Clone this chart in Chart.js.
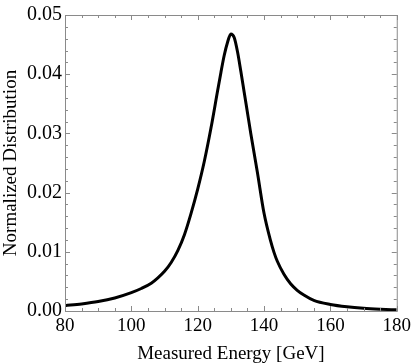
<!DOCTYPE html>
<html>
<head>
<meta charset="utf-8">
<script src="https://cdn.jsdelivr.net/npm/chart.js@4/dist/chart.umd.min.js"></script>
<style>
  html, body { margin: 0; padding: 0; background: #fff; }
  #wrap { width: 415px; height: 363px; position: relative; }
</style>
</head>
<body>
<div id="wrap"><canvas id="c"></canvas></div>
<script>
// measured energy (GeV) and normalized distribution
const energy = [80, 85, 90, 95, 100, 103, 106, 108, 110, 112, 114, 116, 118, 120, 122, 124, 126, 127, 128, 129,
  130, 131, 132, 133, 134, 135, 136, 137, 138, 140, 142, 143, 144, 146, 148, 150, 152, 155, 160, 165, 170,
  175, 180];
const density = [0.0009, 0.0012, 0.0016, 0.0022, 0.0031, 0.0038, 0.0047, 0.0056, 0.0067, 0.0082, 0.0102,
  0.0129, 0.0165, 0.0206, 0.0253, 0.0309, 0.0372, 0.0403, 0.0432, 0.0454, 0.0468, 0.0462, 0.0438, 0.0405,
  0.0370, 0.0335, 0.0300, 0.0267, 0.0234, 0.0165, 0.0118, 0.0099, 0.0084, 0.0062, 0.0046, 0.0035, 0.0027,
  0.0018, 0.0011, 0.0007, 0.00045, 0.0003, 0.0002];

const xMajorTicks = [80, 100, 120, 140, 160, 180];
const yMajorTicks = [0, 0.01, 0.02, 0.03, 0.04, 0.05];
const xMinorStep = 5;
const yMinorStep = 0.002;

const FONT = "'Liberation Serif', 'Times New Roman', serif";
const FRAME = "#8a8a8a";

// frame with inward ticks on all four sides
const framePlugin = {
  id: "frame",
  afterDraw(chart) {
    const { ctx, chartArea: a, scales } = chart;
    const xs = scales.x, ys = scales.y;
    ctx.save();
    ctx.strokeStyle = FRAME;
    ctx.lineWidth = 1;
    ctx.strokeRect(a.left + 0.5, a.top + 0.5, a.right - a.left, a.bottom - a.top);
    ctx.beginPath();
    for (let v = xs.min; v <= xs.max + 1e-9; v += xMinorStep) {
      const px = Math.round(xs.getPixelForValue(v)) + 0.5;
      const len = xMajorTicks.includes(Math.round(v)) ? 5 : 3;
      ctx.moveTo(px, a.bottom); ctx.lineTo(px, a.bottom - len);
      ctx.moveTo(px, a.top); ctx.lineTo(px, a.top + len);
    }
    for (let i = 0; i * yMinorStep <= ys.max + 1e-9; i++) {
      const v = i * yMinorStep;
      const py = Math.round(ys.getPixelForValue(v)) + 0.5;
      const len = i % 5 === 0 ? 5 : 3;
      ctx.moveTo(a.left, py); ctx.lineTo(a.left + len, py);
      ctx.moveTo(a.right, py); ctx.lineTo(a.right - len, py);
    }
    ctx.stroke();
    ctx.restore();
  },
};

new Chart(document.getElementById("c"), {
  type: "line",
  data: {
    datasets: [{
      data: energy.map((e, i) => ({ x: e, y: density[i] })),
      borderColor: "#000",
      borderWidth: 3,
      pointRadius: 0,
      fill: false,
      cubicInterpolationMode: "monotone",
    }],
  },
  options: {
    animation: false,
    responsive: true,
    maintainAspectRatio: false,
    parsing: false,
    layout: { padding: { top: 10, right: 15, left: 0, bottom: 0 } },
    scales: {
      x: {
        type: "linear",
        min: 80,
        max: 180,
        afterBuildTicks: (s) => { s.ticks = xMajorTicks.map((v) => ({ value: v })); },
        afterFit: (s) => { s.height = 52; },
        grid: { display: false, drawTicks: false },
        border: { display: false },
        ticks: { color: "#000", font: { family: FONT, size: 19 }, padding: 4, maxRotation: 0 },
        title: {
          display: true,
          text: "Measured Energy [GeV]",
          color: "#000",
          font: { family: FONT, size: 19 },
          padding: { top: 0, bottom: -2 },
        },
      },
      y: {
        type: "linear",
        min: 0,
        max: 0.05,
        afterBuildTicks: (s) => { s.ticks = yMajorTicks.map((v) => ({ value: v })); },
        afterFit: (s) => { s.width = 65; },
        grid: { display: false, drawTicks: false },
        border: { display: false },
        ticks: {
          color: "#000",
          font: { family: FONT, size: 20 },
          padding: 3,
          callback: (v) => v.toFixed(2),
        },
        title: {
          display: true,
          text: "Normalized Distribution",
          color: "#000",
          font: { family: FONT, size: 19 },
          padding: { top: 0, bottom: 0 },
        },
      },
    },
    plugins: { legend: { display: false }, tooltip: { enabled: false } },
  },
  plugins: [framePlugin],
});
</script>
</body>
</html>
